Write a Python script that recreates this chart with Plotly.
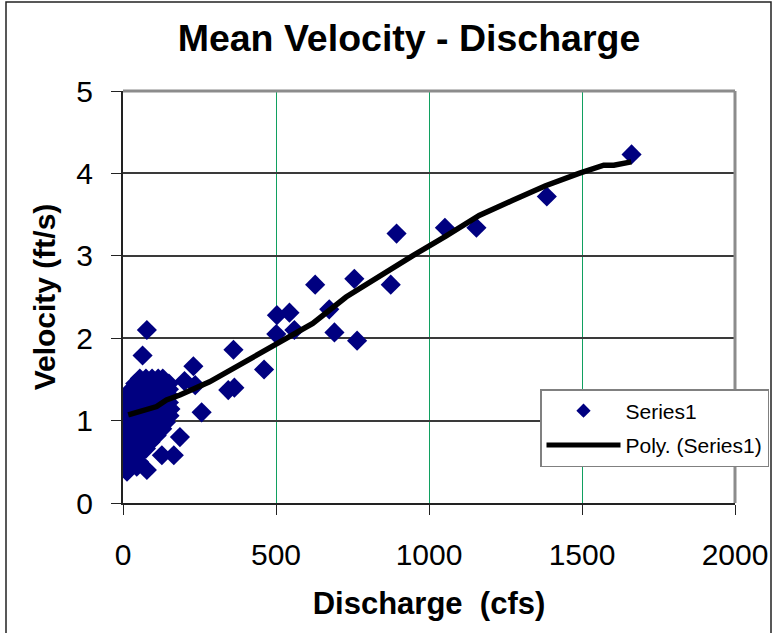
import plotly.graph_objects as go

# Measured discharge (cfs) and mean velocity (ft/s)
discharge = [
    1662, 1385, 1155, 1052, 894, 875, 756, 765, 691, 674, 628, 544, 503, 560, 501,
    461, 361, 344, 364, 230, 257, 236, 201, 186, 127, 166, 78, 13, 78, 64,
    55, 75, 95, 115, 130,
    40, 60, 80, 100, 120, 140, 150,
    28, 45, 65, 85, 105, 125, 150,
    16, 35, 55, 75, 95, 115, 135, 152,
    15, 30, 50, 70, 90, 110, 130, 150,
    18, 35, 55, 75, 95, 115, 135, 155,
    15, 30, 50, 70, 90, 110, 130, 152,
    18, 35, 55, 75, 95, 115, 140,
    15, 30, 50, 70, 90, 110, 128,
    18, 35, 55, 75, 95, 110,
    15, 30, 50, 70, 90,
    18, 35, 55, 75,
    15, 30, 50,
    18, 35, 52,
    25, 45,
]
velocity = [
    4.23, 3.72, 3.34, 3.34, 3.27, 2.65, 2.72, 1.97, 2.07, 2.35, 2.65, 2.31, 2.28, 2.10, 2.05,
    1.62, 1.86, 1.37, 1.40, 1.66, 1.10, 1.43, 1.48, 0.80, 0.58, 0.58, 0.40, 0.38, 2.10, 1.79,
    1.51, 1.51, 1.51, 1.51, 1.51,
    1.45, 1.45, 1.45, 1.45, 1.45, 1.45, 1.45,
    1.38, 1.38, 1.38, 1.38, 1.38, 1.38, 1.38,
    1.30, 1.30, 1.30, 1.30, 1.30, 1.30, 1.30, 1.30,
    1.22, 1.22, 1.22, 1.22, 1.22, 1.22, 1.22, 1.22,
    1.14, 1.14, 1.14, 1.14, 1.14, 1.14, 1.14, 1.14,
    1.06, 1.06, 1.06, 1.06, 1.06, 1.06, 1.06, 1.06,
    0.98, 0.98, 0.98, 0.98, 0.98, 0.98, 0.98,
    0.90, 0.90, 0.90, 0.90, 0.90, 0.90, 0.90,
    0.82, 0.82, 0.82, 0.82, 0.82, 0.82,
    0.74, 0.74, 0.74, 0.74, 0.74,
    0.66, 0.66, 0.66, 0.66,
    0.58, 0.58, 0.58,
    0.50, 0.50, 0.50,
    0.44, 0.44,
]

# Polynomial trendline as plotted
trend_q = [17, 60, 110, 142, 186, 283, 360, 425, 501, 620, 729, 838, 946,
           1055, 1164, 1272, 1381, 1490, 1571, 1604, 1661]
trend_v = [1.07, 1.11, 1.17, 1.25, 1.31, 1.47, 1.63, 1.77, 1.93, 2.18, 2.50, 2.76, 3.00,
           3.24, 3.49, 3.67, 3.85, 4.00, 4.10, 4.10, 4.14]

x_ticks = [0, 500, 1000, 1500, 2000]
y_ticks = [0, 1, 2, 3, 4, 5]

FONT = "Liberation Sans, Arial, sans-serif"
NAVY = "#000080"

fig = go.Figure()

fig.add_trace(go.Scatter(
    x=discharge, y=velocity, mode="markers", showlegend=False,
    marker=dict(symbol="diamond", color=NAVY, size=15.5, line=dict(width=0)),
))
fig.add_trace(go.Scatter(
    x=trend_q, y=trend_v, mode="lines", showlegend=False,
    line=dict(color="black", width=5.5),
))
# legend entries
fig.add_trace(go.Scatter(
    x=[None], y=[None], mode="markers", name="Series1", legendgroup="a",
    marker=dict(symbol="diamond", color=NAVY, size=11, line=dict(width=0)),
))
fig.add_trace(go.Scatter(
    x=[None], y=[None], mode="lines", name="Poly. (Series1)", legendgroup="b",
    line=dict(color="black", width=5),
))

fig.update_layout(
    width=776, height=633,
    margin=dict(l=123, r=41, t=91, b=130, autoexpand=False),
    paper_bgcolor="white", plot_bgcolor="white",
    font=dict(family=FONT, color="black"),
    title=dict(
        text="<b>Mean Velocity - Discharge</b>",
        font=dict(family=FONT, size=37.5, color="black"),
        xref="container", x=409 / 776, xanchor="center",
        yref="container", y=1 - 38 / 633, yanchor="middle",
    ),
    xaxis=dict(
        range=[0, 2000], tickvals=x_ticks, ticktext=[str(v) for v in x_ticks],
        showgrid=True, gridcolor="#10a060", gridwidth=1,
        showline=True, linecolor="#222222", linewidth=2,
        ticks="outside", ticklen=10, tickcolor="#222222", tickwidth=1,
        tickfont=dict(size=30), ticklabelstandoff=14,
        zeroline=False,
        title=dict(text="<b>Discharge  (cfs)</b>", font=dict(size=31), standoff=22),
    ),
    yaxis=dict(
        range=[0, 5], tickvals=y_ticks, ticktext=[str(v) for v in y_ticks],
        showgrid=True, gridcolor="#3a3a3a", gridwidth=1.5,
        showline=True, linecolor="#222222", linewidth=2,
        ticks="outside", ticklen=10, tickcolor="#222222", tickwidth=1,
        tickfont=dict(size=30), ticklabelstandoff=12,
        zeroline=False,
        title=dict(text="<b>Velocity (ft/s)</b>", font=dict(size=30), standoff=12),
    ),
    legend=dict(
        x=(540 - 123) / 612, y=(503 - 389) / 412, xanchor="left", yanchor="top",
        bgcolor="white", bordercolor="#808080", borderwidth=1.5,
        font=dict(size=21, family=FONT), itemwidth=74,
        tracegroupgap=4,
    ),
    shapes=[
        # plot-area frame on top and right
        dict(type="line", xref="paper", yref="paper", x0=0, x1=1, y0=1, y1=1,
             line=dict(color="#8c8c8c", width=3)),
        dict(type="line", xref="paper", yref="paper", x0=1, x1=1, y0=0, y1=1,
             line=dict(color="#8c8c8c", width=3)),
        # chart border
        dict(type="rect", xref="paper", yref="paper",
             x0=(6 - 123) / 612, x1=(771 - 123) / 612,
             y0=(503 - 640) / 412, y1=(503 - 2) / 412,
             line=dict(color="#222222", width=1.5)),
    ],
)

fig.write_html("out.html")
